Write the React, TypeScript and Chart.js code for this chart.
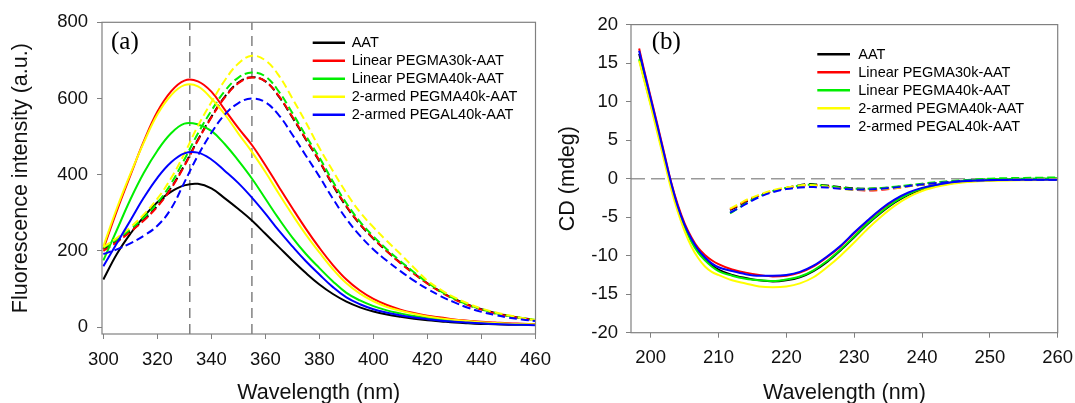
import React, { useEffect, useRef } from "react";
import { Chart, registerables } from "chart.js";

Chart.register(...registerables);

// ---------- shared ----------
const seriesLabels = [
  "AAT",
  "Linear PEGMA30k-AAT",
  "Linear PEGMA40k-AAT",
  "2-armed PEGMA40k-AAT",
  "2-armed PEGAL40k-AAT",
];
const seriesColors = ["#000000", "#ff0000", "#00ee00", "#ffff00", "#0000ff"];

// ---------- panel (a): fluorescence ----------
const fluorWavelengths = [300, 305, 310, 315, 320, 325, 330, 335, 340, 345, 350, 355, 360, 365, 370, 375, 380, 385, 390, 395, 400, 405, 410, 415, 420, 425, 430, 435, 440, 445, 450, 455, 460];
const fluorAat = [125, 192, 245, 290, 328, 355, 372, 376, 364, 338, 310, 280, 245, 210, 175, 142, 112, 87, 67, 52, 41, 33, 27, 22, 18, 15, 12, 10, 8.5, 7.5, 6.5, 6, 5.5];
const fluorPegma30k = [205, 305, 398, 488, 565, 618, 647, 645, 618, 570, 522, 478, 425, 368, 312, 258, 208, 163, 125, 96, 74, 58, 46, 37, 30, 25, 20, 17, 14, 12, 10, 9, 8];
const fluorPegma40k = [175, 255, 335, 405, 463, 508, 534, 532, 515, 480, 437, 390, 337, 284, 235, 192, 155, 120, 90, 70, 55, 44, 36, 29, 24, 20, 16, 13, 11, 9.5, 8, 7, 6];
const fluorArmedPegma = [212, 312, 402, 485, 558, 608, 635, 632, 600, 558, 508, 460, 407, 350, 295, 243, 196, 152, 115, 88, 68, 53, 43, 35, 28, 23, 19, 16, 13, 11, 9, 8, 7];
const fluorArmedPegal = [160, 220, 280, 340, 392, 432, 456, 458, 440, 410, 378, 340, 298, 253, 212, 173, 138, 105, 78, 60, 47, 38, 31, 25, 21, 17, 14, 12, 10, 8.5, 7, 6, 5];

const fluorAatDash = [205, 226, 252, 282, 318, 365, 425, 492, 552, 605, 642, 656, 645, 605, 550, 492, 435, 372, 316, 270, 232, 199, 169, 141, 115, 93, 74, 59, 47, 37, 30, 24, 19];
const fluorPegma30kDash = [200, 223, 250, 280, 316, 363, 423, 490, 550, 603, 640, 655, 645, 606, 552, 494, 437, 374, 318, 271, 233, 199, 168, 140, 114, 92, 73, 58, 46, 36, 29, 23, 18];
const fluorPegma40kDash = [208, 230, 257, 288, 326, 376, 440, 508, 568, 620, 655, 668, 658, 618, 562, 502, 445, 382, 325, 277, 238, 204, 173, 144, 117, 94, 75, 59, 47, 37, 30, 24, 19];
const fluorArmedPegmaDash = [210, 234, 262, 296, 337, 390, 455, 528, 590, 648, 692, 712, 700, 660, 600, 537, 470, 410, 352, 302, 262, 226, 192, 156, 122, 98, 78, 62, 49, 39, 31, 24, 19];
const fluorArmedPegalDash = [192, 204, 220, 240, 266, 310, 380, 450, 510, 558, 588, 600, 590, 556, 505, 450, 395, 337, 284, 240, 204, 174, 147, 122, 100, 81, 65, 51, 40, 32, 25, 20, 16];

const fluorPeakLines = [332, 355];
const fluorXTicks = [300, 320, 340, 360, 380, 400, 420, 440, 460];
const fluorYTicks = [0, 200, 400, 600, 800];
const fluorXRange = [299.5, 460];
const fluorYRange = [-18, 800];

// ---------- panel (b): CD ----------
const cdWavelengths = [198.3, 199, 200, 201, 202, 203, 204, 205, 206, 207, 208, 209, 210, 212, 214, 216, 218, 220, 222, 224, 226, 228, 230, 232, 234, 236, 238, 240, 243, 246, 250, 255, 260];
const cdAat = [16.2, 13.7, 10.1, 6.5, 2.9, -0.7, -3.7, -6.1, -8.0, -9.4, -10.3, -11.2, -11.8, -12.5, -12.9, -13.2, -13.35, -13.2, -12.8, -12.0, -10.8, -9.3, -7.6, -5.9, -4.4, -3.1, -2.1, -1.4, -0.8, -0.4, -0.2, -0.1, -0.1];
const cdPegma30k = [16.9, 14.2, 10.6, 7.0, 3.3, -0.4, -3.4, -5.8, -7.6, -9.0, -9.9, -10.6, -11.1, -11.8, -12.2, -12.5, -12.7, -12.6, -12.2, -11.4, -10.2, -8.8, -7.1, -5.5, -4.0, -2.8, -1.9, -1.3, -0.7, -0.35, -0.15, -0.1, -0.1];
const cdPegma40k = [15.5, 13.1, 9.7, 6.2, 2.6, -0.9, -3.9, -6.3, -8.2, -9.6, -10.6, -11.4, -12.0, -12.6, -13.0, -13.2, -13.3, -13.1, -12.7, -11.9, -10.7, -9.2, -7.5, -5.8, -4.3, -3.0, -2.0, -1.3, -0.7, -0.3, -0.1, 0, 0.05];
const cdArmedPegma = [15.3, 12.9, 9.5, 5.9, 2.3, -1.3, -4.3, -6.8, -8.8, -10.3, -11.4, -12.1, -12.5, -13.2, -13.6, -14.0, -14.1, -14.0, -13.6, -12.8, -11.5, -10.0, -8.3, -6.5, -4.9, -3.5, -2.4, -1.6, -0.9, -0.5, -0.3, -0.2, -0.15];
const cdArmedPegal = [16.6, 14.0, 10.4, 6.8, 3.1, -0.5, -3.6, -6.0, -7.8, -9.2, -10.2, -11.0, -11.5, -12.0, -12.4, -12.6, -12.6, -12.5, -12.1, -11.3, -10.1, -8.7, -7.0, -5.4, -3.9, -2.7, -1.8, -1.2, -0.65, -0.35, -0.2, -0.15, -0.15];

const cdWavelengthsDash = [211.7, 213, 214, 216, 218, 220, 222, 223, 224, 226, 228, 230, 232, 234, 236, 238, 240, 243, 246, 250, 255, 260];
const cdAatDash = [-4.1, -3.5, -3.0, -2.2, -1.6, -1.2, -0.85, -0.7, -0.72, -0.9, -1.1, -1.25, -1.3, -1.25, -1.1, -0.95, -0.8, -0.55, -0.3, -0.15, -0.05, 0];
const cdPegma30kDash = [-4.0, -3.4, -2.9, -2.2, -1.6, -1.2, -0.95, -0.85, -0.85, -1.0, -1.25, -1.45, -1.55, -1.45, -1.25, -1.0, -0.8, -0.55, -0.3, -0.15, -0.05, 0];
const cdPegma40kDash = [-4.5, -3.8, -3.2, -2.3, -1.6, -1.2, -0.9, -0.8, -0.8, -0.95, -1.15, -1.3, -1.3, -1.2, -1.05, -0.85, -0.65, -0.4, -0.2, 0, 0.1, 0.15];
const cdArmedPegmaDash = [-3.9, -3.3, -2.8, -2.1, -1.5, -1.15, -0.9, -0.8, -0.85, -1.05, -1.3, -1.45, -1.45, -1.35, -1.2, -1.0, -0.8, -0.55, -0.35, -0.2, -0.1, -0.05];
const cdArmedPegalDash = [-4.4, -3.8, -3.3, -2.4, -1.75, -1.35, -1.15, -1.1, -1.1, -1.15, -1.3, -1.4, -1.4, -1.3, -1.15, -0.95, -0.75, -0.5, -0.3, -0.18, -0.15, -0.15];

const cdZeroLine = 0;
const cdXTicks = [200, 210, 220, 230, 240, 250, 260];
const cdYTicks = [-20, -15, -10, -5, 0, 5, 10, 15, 20];
const cdXRange = [197.1, 260];
const cdYRange = [-20, 20];

// ---------- helpers ----------
const SANS = '"Liberation Sans", Arial, sans-serif';
const GRAY = "#808080";

function curve(label: string, xs: number[], ys: number[], idx: number, dashed: boolean, legend: boolean, smooth: "spline" | "monotone") {
  return {
    label,
    data: xs.map((x, i) => ({ x, y: ys[i] })),
    borderColor: seriesColors[idx],
    backgroundColor: seriesColors[idx],
    borderWidth: 2,
    borderDash: dashed ? [8, 4] : [],
    pointRadius: 0,
    fill: false,
    tension: 0.4,
    cubicInterpolationMode: smooth === "monotone" ? "monotone" : "default",
    order: 5 - idx,
    showInLegend: legend,
  };
}

function refLine(points: { x: number; y: number }[]) {
  return {
    label: "",
    data: points,
    borderColor: GRAY,
    borderWidth: 1.5,
    borderDash: [10, 6],
    pointRadius: 0,
    fill: false,
    tension: 0,
    order: 20,
    showInLegend: false,
  };
}

const decorPlugin = {
  id: "decor",
  afterDatasetsDraw(chart: any, _args: any, opts: any) {
    const { ctx, chartArea: a } = chart;
    ctx.save();
    ctx.setLineDash([]);
    ctx.strokeStyle = GRAY;
    ctx.lineWidth = 1.2;
    ctx.strokeRect(a.left, a.top, a.right - a.left, a.bottom - a.top);

    ctx.fillStyle = "#000";
    ctx.textAlign = "left";
    ctx.textBaseline = "middle";
    ctx.font = '25px "Liberation Serif", "Times New Roman", serif';
    ctx.fillText(opts.panel, opts.panelX, opts.panelY);

    ctx.font = "14.5px " + SANS;
    const items = chart.data.datasets.filter((d: any) => d.showInLegend);
    items.forEach((d: any, i: number) => {
      const y = opts.legendY + i * opts.legendGap;
      ctx.strokeStyle = d.borderColor;
      ctx.lineWidth = 2.5;
      ctx.beginPath();
      ctx.moveTo(opts.lineX0, y);
      ctx.lineTo(opts.lineX1, y);
      ctx.stroke();
      ctx.fillStyle = "#000";
      ctx.fillText(d.label, opts.textX, y + 0.5);
    });
    ctx.restore();
  },
};

function axis(
  range: number[],
  ticks: number[],
  titleText: string,
  isX: boolean,
  sizeFix: number,
  tickPad: number,
  titlePad: any
) {
  return {
    type: "linear",
    min: range[0],
    max: range[1],
    afterBuildTicks: (s: any) => {
      s.ticks = ticks.map((v) => ({ value: v }));
    },
    afterFit: (s: any) => {
      if (isX) {
        s.height = sizeFix;
        s.paddingLeft = 0;
        s.paddingRight = 0;
      } else {
        s.width = sizeFix;
        s.paddingTop = 0;
        s.paddingBottom = 0;
      }
    },
    border: { display: false },
    grid: { drawOnChartArea: false, drawTicks: true, tickLength: 5, color: GRAY, lineWidth: 1 },
    ticks: { color: "#111", font: { family: SANS, size: 18.5 }, padding: tickPad, autoSkip: false, maxRotation: 0 },
    title: { display: true, text: titleText, color: "#111", font: { family: SANS, size: 21.5 }, padding: titlePad },
  };
}

function fluorConfig(): any {
  const datasets: any[] = [
    curve(seriesLabels[0], fluorWavelengths, fluorAat, 0, false, true, "spline"),
    curve(seriesLabels[1], fluorWavelengths, fluorPegma30k, 1, false, true, "spline"),
    curve(seriesLabels[2], fluorWavelengths, fluorPegma40k, 2, false, true, "spline"),
    curve(seriesLabels[3], fluorWavelengths, fluorArmedPegma, 3, false, true, "spline"),
    curve(seriesLabels[4], fluorWavelengths, fluorArmedPegal, 4, false, true, "spline"),
    curve(seriesLabels[0], fluorWavelengths, fluorAatDash, 0, true, false, "spline"),
    curve(seriesLabels[1], fluorWavelengths, fluorPegma30kDash, 1, true, false, "spline"),
    curve(seriesLabels[2], fluorWavelengths, fluorPegma40kDash, 2, true, false, "spline"),
    curve(seriesLabels[3], fluorWavelengths, fluorArmedPegmaDash, 3, true, false, "spline"),
    curve(seriesLabels[4], fluorWavelengths, fluorArmedPegalDash, 4, true, false, "spline"),
    ...fluorPeakLines.map((p) => refLine([{ x: p, y: fluorYRange[0] }, { x: p, y: fluorYRange[1] }])),
  ];
  return {
    type: "line",
    data: { datasets },
    options: {
      animation: false,
      responsive: false,
      devicePixelRatio: 1,
      layout: { padding: { left: 0, top: 22.3, right: 24.5, bottom: 0 } },
      plugins: {
        legend: { display: false },
        tooltip: { enabled: false },
        decor: {
          panel: "(a)", panelX: 111, panelY: 42.5,
          legendY: 42.7, legendGap: 18, lineX0: 312.7, lineX1: 345, textX: 351.7,
        },
      },
      scales: {
        x: axis(fluorXRange, fluorXTicks, "Wavelength (nm)", true, 69, 9.4, { top: 0, bottom: -3 }),
        y: axis(fluorYRange, fluorYTicks, "Fluorescence intensity (a.u.)", false, 102, 9, { top: 8, bottom: 0 }),
      },
    },
    plugins: [decorPlugin],
  };
}

function cdConfig(): any {
  const datasets: any[] = [
    curve(seriesLabels[0], cdWavelengths, cdAat, 0, false, true, "monotone"),
    curve(seriesLabels[1], cdWavelengths, cdPegma30k, 1, false, true, "monotone"),
    curve(seriesLabels[2], cdWavelengths, cdPegma40k, 2, false, true, "monotone"),
    curve(seriesLabels[3], cdWavelengths, cdArmedPegma, 3, false, true, "monotone"),
    curve(seriesLabels[4], cdWavelengths, cdArmedPegal, 4, false, true, "monotone"),
    curve(seriesLabels[0], cdWavelengthsDash, cdAatDash, 0, true, false, "monotone"),
    curve(seriesLabels[1], cdWavelengthsDash, cdPegma30kDash, 1, true, false, "monotone"),
    curve(seriesLabels[2], cdWavelengthsDash, cdPegma40kDash, 2, true, false, "monotone"),
    curve(seriesLabels[3], cdWavelengthsDash, cdArmedPegmaDash, 3, true, false, "monotone"),
    curve(seriesLabels[4], cdWavelengthsDash, cdArmedPegalDash, 4, true, false, "monotone"),
    { ...refLine([{ x: cdXRange[0], y: cdZeroLine }, { x: cdXRange[1], y: cdZeroLine }]), borderDash: [14, 6], borderColor: "#999999" },
  ];
  return {
    type: "line",
    data: { datasets },
    options: {
      animation: false,
      responsive: false,
      devicePixelRatio: 1,
      layout: { padding: { left: 0, top: 24.6, right: 17.3, bottom: 0 } },
      plugins: {
        legend: { display: false },
        tooltip: { enabled: false },
        decor: {
          panel: "(b)", panelX: 111.7, panelY: 42.5,
          legendY: 54.3, legendGap: 18, lineX0: 277.3, lineX1: 310, textX: 318.3,
        },
      },
      scales: {
        x: axis(cdXRange, cdXTicks, "Wavelength (nm)", true, 403 - 332.7, 8.7, { top: 0, bottom: -3 }),
        y: axis(cdYRange, cdYTicks, "CD (mdeg)", false, 91, 8, { top: 15, bottom: 0 }),
      },
    },
    plugins: [decorPlugin],
  };
}

function ChartCanvas({ makeConfig, left, width }: { makeConfig: () => any; left: number; width: number }) {
  const ref = useRef<HTMLCanvasElement | null>(null);
  useEffect(() => {
    if (!ref.current) return;
    const chart = new Chart(ref.current, makeConfig());
    return () => chart.destroy();
  }, []);
  return (
    <canvas
      ref={ref}
      width={width}
      height={403}
      style={{ position: "absolute", left, top: 0, width, height: 403 }}
    />
  );
}

export default function App() {
  return (
    <div
      style={{
        position: "fixed",
        left: 0,
        top: 0,
        width: 1075,
        height: 403,
        background: "#ffffff",
        overflow: "hidden",
      }}
    >
      <ChartCanvas makeConfig={fluorConfig} left={0} width={560} />
      <ChartCanvas makeConfig={cdConfig} left={540} width={535} />
    </div>
  );
}
